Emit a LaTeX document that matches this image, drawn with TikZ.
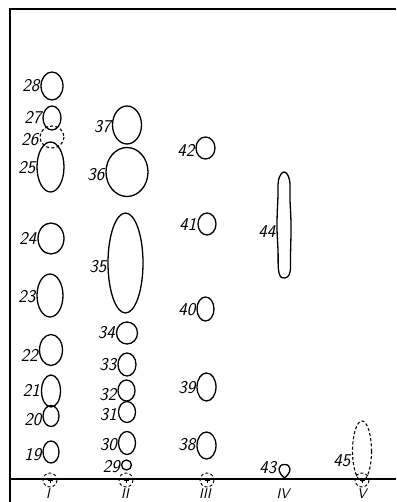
\documentclass[tikz,border=0pt]{standalone}
\usepackage{tikz}
\usetikzlibrary{calc}

\begin{document}
\begin{tikzpicture}[x=1pt, y=-1pt,
    spot/.style={line width=1.3pt},
    faint/.style={line width=1.1pt, dash pattern=on 3pt off 2.2pt},
    lbl/.style={font=\fontsize{18}{18}\selectfont\sffamily\slshape, inner sep=0pt, anchor=east},
    lanelbl/.style={font=\fontsize{14}{14}\selectfont\sffamily\slshape, inner sep=0pt, anchor=north}]
    \useasboundingbox (0,0) rectangle (396,502);

    \coordinate (TL) at (10,9);
    \coordinate (TR) at (396,9);
    \coordinate (BL) at (10,502);
    \coordinate (SL) at (10,479);
    \coordinate (SR) at (396,479);

    % Plate edges
    \draw[line width=1.4pt] (BL) -- (TL) -- (TR);
    % Start line
    \draw[line width=1.1pt] (SL) -- (SR);

    % Spots: number/x/y/x radius/y radius/label y
    \foreach \n/\x/\y/\rx/\ry/\ly in {
        19/51/452/8/11/455, 20/51/416/8/10.5/420, 21/51/391/9.5/16/390,
        22/51/350/11.5/15.5/355, 23/50/295.5/13/21.5/297, 24/51/238.5/13/15.5/238,
        25/50.5/167/13.5/25/168, 27/52/118/9/12/118, 28/52/86/11/14/86,
        29/126.5/465/5/5/467, 30/127/443/8.5/11.5/445, 31/127/412/8.5/10.5/415,
        32/126.5/390.5/8.5/10.5/395, 33/127/364.5/9/11.5/365, 34/127/333/10.5/11/333,
        35/125.5/263/17.5/50/267, 36/127/172/21/24.5/175, 37/127/125/14.5/19/127,
        38/206.5/445.5/9.5/13.5/445, 39/206.5/387/9.5/14/388, 40/205.5/309/8.5/12/310,
        41/207/224/9/11/224, 42/205.5/148/9.5/11/150}{
        \draw[spot] (\x,\y) ellipse [x radius=\rx, y radius=\ry];
        \node[lbl] (s\n) at (\x-\rx-1.5,\ly) {\n};
    }

    % Faint spots (dashed)
    \draw[faint] (52,137) ellipse [x radius=12, y radius=11];
    \node[lbl] (s26) at (38.5,140) {26};
    \draw[faint] (362,451) ellipse [x radius=9.5, y radius=30];
    \node[lbl] (s45) at (350.5,461) {45};

    % Spot 43, drop on the start line
    \draw[spot] (284.5,478) .. controls (277,472) and (277.5,464.5) .. (284.5,464.5)
        .. controls (291.5,464.5) and (292,472) .. (284.5,478);
    \node[lbl] (s43) at (276.5,468) {43};

    % Spot 44, long streak
    \draw[spot] plot[smooth cycle, tension=0.7] coordinates {
        (284,172) (289.5,180) (290,200) (291,225) (290.5,255) (290,272)
        (285,278) (279,273) (278,250) (277,225) (278,195) (278.5,180)};
    \node[lbl] (s44) at (275.5,232) {44};

    % Application points
    \foreach \o/\x in {I/50, II/126, III/207, V/362}{
        \draw[faint, line width=0.9pt] (\x,480) circle (7);
        \draw[line width=0.9pt] (\x-2.5,480) -- (\x+2.5,480) (\x,477.5) -- (\x,482.5);
    }

    % Lane numbers
    \foreach \o/\x in {I/48, II/125, III/205, IV/283, V/362}
        \node[lanelbl] (l\o) at (\x,488.5) {\o};
\end{tikzpicture}
\end{document}
